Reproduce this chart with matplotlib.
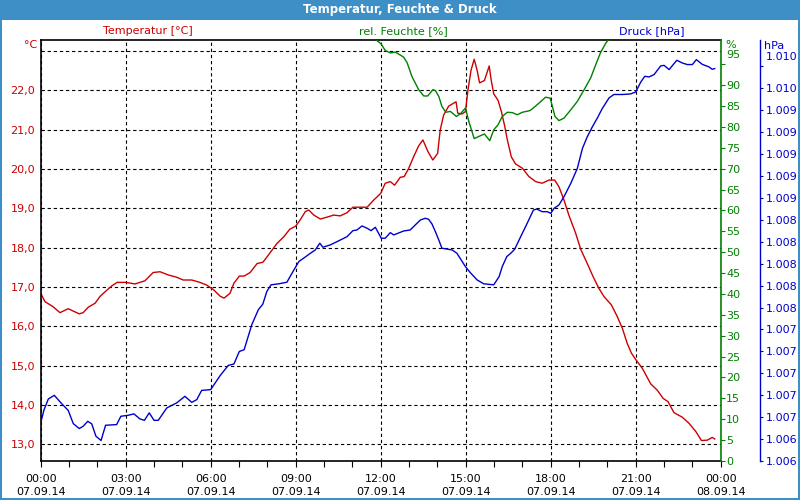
import matplotlib
matplotlib.use('Agg')
from matplotlib import pyplot as plt
from matplotlib.patches import Rectangle
from matplotlib.ticker import FuncFormatter, MultipleLocator
from matplotlib.transforms import ScaledTranslation

# Temperatur [°C]
temp_h = [0.0, 0.15, 0.44, 0.68, 0.97, 1.15, 1.36, 1.50, 1.68, 1.92, 2.09, 2.27, 2.51, 2.70,
          3.00, 3.33, 3.68, 3.97, 4.21, 4.50, 4.80, 5.03, 5.33, 5.62, 5.86, 6.09, 6.33, 6.47,
          6.68, 6.82, 7.01, 7.18, 7.39, 7.64, 7.84, 7.98, 8.34, 8.58, 8.79, 9.00, 9.16, 9.34,
          9.46, 9.64, 9.87, 10.16, 10.34, 10.57, 10.81, 11.02, 11.52, 11.75, 12.00, 12.16,
          12.34, 12.49, 12.69, 12.83, 12.99, 13.16, 13.34, 13.49, 13.67, 13.84, 14.01, 14.10,
          14.22, 14.40, 14.66, 14.72, 14.87, 14.99, 15.08, 15.19, 15.30, 15.40, 15.49, 15.66,
          15.83, 15.90, 15.99, 16.14, 16.26, 16.38, 16.47, 16.61, 16.76, 17.00, 17.23, 17.47,
          17.70, 17.94, 18.14, 18.29, 18.47, 18.64, 18.88, 19.06, 19.29, 19.50, 19.70, 19.88,
          20.14, 20.35, 20.53, 20.70, 20.85, 21.00, 21.23, 21.53, 21.76, 21.97, 22.14, 22.35,
          22.65, 22.88, 23.12, 23.32, 23.53, 23.70, 23.79]
temp_c = [16.84, 16.63, 16.50, 16.35, 16.45, 16.39, 16.32, 16.35, 16.49, 16.59, 16.76, 16.88,
          17.03, 17.12, 17.12, 17.08, 17.16, 17.37, 17.39, 17.31, 17.25, 17.18, 17.18, 17.12,
          17.05, 16.94, 16.77, 16.72, 16.84, 17.10, 17.28, 17.28, 17.37, 17.60, 17.63, 17.76,
          18.11, 18.28, 18.47, 18.55, 18.71, 18.92, 18.96, 18.83, 18.73, 18.79, 18.83, 18.81,
          18.89, 19.03, 19.03, 19.21, 19.38, 19.64, 19.68, 19.59, 19.79, 19.81, 20.02, 20.31,
          20.59, 20.74, 20.44, 20.23, 20.40, 20.99, 21.37, 21.60, 21.71, 21.42, 21.40, 21.46,
          22.01, 22.52, 22.79, 22.52, 22.19, 22.25, 22.62, 22.26, 21.91, 21.75, 21.46, 21.08,
          20.74, 20.31, 20.13, 20.02, 19.81, 19.68, 19.64, 19.72, 19.72, 19.55, 19.21, 18.83,
          18.37, 17.96, 17.60, 17.26, 16.97, 16.76, 16.55, 16.25, 15.95, 15.57, 15.32, 15.16,
          14.94, 14.54, 14.38, 14.17, 14.09, 13.81, 13.69, 13.54, 13.33, 13.10, 13.11, 13.18,
          13.14]

# rel. Feuchte [%]
feuchte_h = [0.0, 11.70, 11.84, 12.01, 12.16, 12.34, 12.52, 12.69, 12.81, 12.93, 13.10, 13.34,
             13.52, 13.66, 13.84, 13.93, 14.05, 14.16, 14.30, 14.46, 14.67, 14.81, 14.99, 15.11,
             15.30, 15.46, 15.66, 15.85, 15.99, 16.14, 16.29, 16.47, 16.65, 16.82, 17.00, 17.27,
             17.47, 17.82, 17.98, 18.06, 18.15, 18.29, 18.47, 18.71, 18.94, 19.18, 19.41, 19.59,
             19.76, 19.94, 20.03, 20.20, 24.0]
feuchte_pct = [102.0, 101.6, 100.8, 99.9, 98.3, 97.7, 97.9, 97.2, 96.7, 95.4, 92.1, 88.9,
               87.4, 87.4, 88.9, 88.7, 87.3, 84.9, 83.5, 83.7, 82.5, 83.1, 84.5, 81.3,
               77.2, 77.7, 78.3, 76.7, 79.3, 80.5, 82.5, 83.5, 83.4, 82.9, 83.5, 83.9,
               85.0, 87.1, 86.9, 84.9, 82.5, 81.5, 82.1, 84.1, 86.1, 88.9, 91.7, 94.9,
               97.8, 100.0, 100.8, 101.8, 102.0]

# Druck [hPa]
druck_h = [0.0, 0.12, 0.27, 0.48, 0.74, 0.97, 1.15, 1.36, 1.50, 1.66, 1.80, 1.95, 2.13, 2.29,
           2.68, 2.83, 3.09, 3.29, 3.50, 3.66, 3.83, 4.00, 4.15, 4.45, 4.80, 5.09, 5.33, 5.51,
           5.68, 6.00, 6.33, 6.62, 6.82, 7.01, 7.18, 7.45, 7.68, 7.84, 7.98, 8.13, 8.40, 8.69,
           8.87, 9.11, 9.28, 9.52, 9.69, 9.85, 9.96, 10.22, 10.46, 10.81, 11.02, 11.16, 11.34,
           11.52, 11.66, 11.81, 12.02, 12.16, 12.34, 12.46, 12.81, 13.04, 13.22, 13.40, 13.57,
           13.69, 13.81, 13.93, 14.05, 14.16, 14.52, 14.69, 14.99, 15.16, 15.40, 15.64, 15.99,
           16.18, 16.29, 16.45, 16.59, 16.73, 16.94, 17.17, 17.39, 17.51, 17.70, 17.88, 18.00,
           18.12, 18.29, 18.47, 18.71, 18.94, 19.12, 19.29, 19.47, 19.65, 19.82, 20.06, 20.23,
           20.53, 20.82, 21.00, 21.18, 21.32, 21.47, 21.65, 21.88, 22.00, 22.18, 22.45, 22.65,
           22.82, 23.00, 23.14, 23.35, 23.59, 23.70, 23.79]
druck_hpa = [1006.468, 1006.589, 1006.686, 1006.719, 1006.643, 1006.582, 1006.461, 1006.416,
             1006.437, 1006.482, 1006.459, 1006.346, 1006.307, 1006.446, 1006.452, 1006.528,
             1006.537, 1006.550, 1006.504, 1006.491, 1006.559, 1006.491, 1006.491, 1006.604,
             1006.650, 1006.710, 1006.655, 1006.680, 1006.764, 1006.771, 1006.898, 1006.992,
             1007.005, 1007.119, 1007.135, 1007.363, 1007.499, 1007.551, 1007.666, 1007.727,
             1007.736, 1007.751, 1007.833, 1007.939, 1007.970, 1008.015, 1008.045, 1008.106,
             1008.070, 1008.091, 1008.121, 1008.166, 1008.221, 1008.227, 1008.264, 1008.243,
             1008.221, 1008.252, 1008.152, 1008.152, 1008.203, 1008.182, 1008.218, 1008.227,
             1008.273, 1008.318, 1008.334, 1008.325, 1008.282, 1008.212, 1008.136, 1008.061,
             1008.045, 1008.015, 1007.893, 1007.839, 1007.772, 1007.736, 1007.727, 1007.802,
             1007.893, 1007.984, 1008.015, 1008.052, 1008.166, 1008.288, 1008.409, 1008.418,
             1008.394, 1008.394, 1008.379, 1008.425, 1008.455, 1008.531, 1008.653, 1008.789,
             1008.971, 1009.077, 1009.168, 1009.250, 1009.335, 1009.432, 1009.463, 1009.463,
             1009.468, 1009.486, 1009.577, 1009.629, 1009.623, 1009.645, 1009.723, 1009.729,
             1009.690, 1009.775, 1009.750, 1009.736, 1009.736, 1009.781, 1009.738, 1009.714,
             1009.693, 1009.699]

xtick_h = [0, 3, 6, 9, 12, 15, 18, 21, 24]
xtick_labels = ['00:00\n07.09.14', '03:00\n07.09.14', '06:00\n07.09.14', '09:00\n07.09.14',
                '12:00\n07.09.14', '15:00\n07.09.14', '18:00\n07.09.14', '21:00\n07.09.14',
                '00:00\n08.09.14']
temp_ticks = [13, 14, 15, 16, 17, 18, 19, 20, 21, 22, 23]
temp_labels = ['13,0', '14,0', '15,0', '16,0', '17,0', '18,0', '19,0', '20,0', '21,0', '22,0', '']
feuchte_ticks = [0, 5, 10, 15, 20, 25, 30, 35, 40, 45, 50, 55, 60, 65, 70, 75, 80, 85, 90, 95]
druck_ticks = [1006.12, 1006.32, 1006.52, 1006.72, 1006.92, 1007.12, 1007.32, 1007.52, 1007.72,
               1007.92, 1008.12, 1008.32, 1008.52, 1008.72, 1008.92, 1009.12, 1009.32, 1009.52,
               1009.72]

RED = '#cc0000'
GREEN = '#008000'
BLUE = '#0000cc'
BAR = '#3d8fc6'
W, H = 800, 500


def fx(x):
    return x / W


def fy(y):
    return 1 - y / H


fig = plt.figure(figsize=(8, 5), dpi=100, facecolor='white')

# title bar and frame
fig.add_artist(Rectangle((0, fy(20)), 1, 20 / H, transform=fig.transFigure,
                         facecolor=BAR, edgecolor='none'))
fig.add_artist(Rectangle((0, 0), 1, 1, transform=fig.transFigure, fill=False,
                         edgecolor=BAR, lw=2.9))
fig.text(0.5, fy(10), 'Temperatur, Feuchte & Druck', ha='center', va='center',
         color='white', fontsize=8.5, fontweight='bold')

ax = fig.add_axes([fx(40.7), fy(461), 680 / W, 421 / H])
ax2 = ax.twinx()
ax3 = ax.twinx()

ax.plot(temp_h, temp_c, color=RED, lw=1.0)
ax2.plot(feuchte_h, feuchte_pct, color=GREEN, lw=1.0)
ax3.plot(druck_h, druck_hpa, color=BLUE, lw=1.0)

ax.set_xlim(0, 24)
ax.set_ylim(12.58, 23.28)
ax2.set_ylim(0, 100.8)
ax3.set_ylim(1006.12, 1009.96)

# x axis
ax.set_xticks(xtick_h)
ax.set_xticklabels(xtick_labels, linespacing=1.45)
ax.xaxis.set_minor_locator(MultipleLocator(1))
ax.tick_params(axis='x', which='both', length=4, width=0.8, direction='out',
               labelsize=8, pad=5)

# temperature axis + grid
ax.set_yticks(temp_ticks)
ax.set_yticklabels(temp_labels)
ax.tick_params(axis='y', length=0, labelcolor=RED, labelsize=8, pad=4)
ax.grid(True, which='major', color='black', lw=0.8, ls=(0, (3, 2.5)))
ax.set_axisbelow(True)
for s in ['left', 'bottom', 'top']:
    ax.spines[s].set_color('black')
    ax.spines[s].set_linewidth(1.2)
ax.spines['right'].set_visible(False)

# humidity axis
for s in ['left', 'bottom', 'top']:
    ax2.spines[s].set_visible(False)
ax2.spines['right'].set_color(GREEN)
ax2.spines['right'].set_linewidth(1.2)
ax2.set_yticks(feuchte_ticks)
ax2.tick_params(axis='y', colors=GREEN, length=3, width=0.8, labelsize=8, pad=1)

# pressure axis
for s in ['left', 'bottom', 'top']:
    ax3.spines[s].set_visible(False)
ax3.spines['right'].set_position(('axes', (760 - 40.7) / 680))
ax3.spines['right'].set_color(BLUE)
ax3.spines['right'].set_linewidth(1.0)
ax3.set_yticks(druck_ticks)
ax3.yaxis.set_major_formatter(FuncFormatter(lambda v, p: '1.%03d' % (int(v + 0.5) - 1000)))
ax3.tick_params(axis='y', colors=BLUE, length=2, width=0.8, labelsize=8, pad=2)

# the topmost labels on both right axes sit a bit higher in the original
up = ScaledTranslation(0, 10 / 100, fig.dpi_scale_trans)
for a in (ax2, ax3):
    top = a.yaxis.get_major_ticks()[-1]
    top.label2.set_transform(top.label2.get_transform() + up)

# unit labels and series titles
fig.text(fx(37), fy(45), '°C', ha='right', va='center', color=RED, fontsize=8)
fig.text(fx(725), fy(45), '%', ha='left', va='center', color=GREEN, fontsize=8)
fig.text(fx(764), fy(46), 'hPa', ha='left', va='center', color=BLUE, fontsize=8)
fig.text(fx(148), fy(31), 'Temperatur [°C]', ha='center', va='center', color=RED, fontsize=8)
fig.text(fx(403), fy(31), 'rel. Feuchte [%]', ha='center', va='center', color=GREEN, fontsize=8)
fig.text(fx(652), fy(31), 'Druck [hPa]', ha='center', va='center', color=BLUE, fontsize=8)

fig.savefig('out.png', dpi=100, facecolor='white')
